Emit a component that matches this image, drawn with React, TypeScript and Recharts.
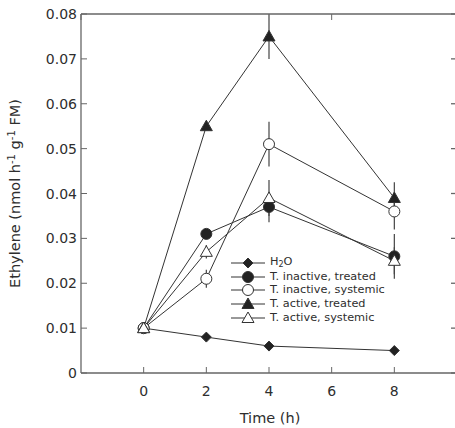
import React from "react";
import { LineChart, Line, XAxis, YAxis, ErrorBar } from "recharts";

// time points (h) and ethylene values
const hours = [0, 2, 4, 8];
const water = [0.01, 0.008, 0.006, 0.005];
const inactiveTreated = [0.01, 0.031, 0.037, 0.026];
const inactiveTreatedErr = [0, 0.001, 0.0034, 0.005];
const inactiveSystemic = [0.01, 0.021, 0.051, 0.036];
const inactiveSystemicErr = [0, 0.002, 0.005, 0.004];
const activeTreated = [0.01, 0.055, 0.075, 0.039];
const activeTreatedErr = [0, 0, 0.005, 0.0035];
const activeSystemic = [0.01, 0.027, 0.039, 0.025];
const activeSystemicErr = [0, 0.0015, 0.004, 0.003];

const xTicks = [0, 2, 4, 6, 8];
const yTicks = [0, 0.01, 0.02, 0.03, 0.04, 0.05, 0.06, 0.07, 0.08];

const FONT = "'DejaVu Sans', Verdana, sans-serif";
const AXIS = "#666";
const INK = "#333";
const TEXT = "#2e2e2e";

const CHART_W = 460;
const MARGIN = { top: 13, right: 2, bottom: 0, left: 0 };
const Y_AXIS_W = 81;
const PLOT_W = CHART_W - MARGIN.left - MARGIN.right - Y_AXIS_W - 1;

const data = hours.map((h, i) => ({
  h,
  water: water[i],
  inactiveTreated: inactiveTreated[i],
  inactiveTreatedErr: inactiveTreatedErr[i],
  inactiveSystemic: inactiveSystemic[i],
  inactiveSystemicErr: inactiveSystemicErr[i],
  activeTreated: activeTreated[i],
  activeTreatedErr: activeTreatedErr[i],
  activeSystemic: activeSystemic[i],
  activeSystemicErr: activeSystemicErr[i],
}));

type Shape = "diamond" | "circle" | "triangle";

function Marker({ shape, filled, cx, cy }: { shape: Shape; filled: boolean; cx: number; cy: number }) {
  const fill = filled ? "#222" : "#fff";
  if (shape === "diamond") {
    const s = 5;
    return <polygon points={`${cx},${cy - s} ${cx + s},${cy} ${cx},${cy + s} ${cx - s},${cy}`} fill={fill} stroke={INK} />;
  }
  if (shape === "circle") {
    return <circle cx={cx} cy={cy} r={5.5} fill={fill} stroke={INK} strokeWidth={1} />;
  }
  return (
    <polygon
      points={`${cx},${cy - 6} ${cx + 6},${cy + 4.5} ${cx - 6},${cy + 4.5}`}
      fill={fill}
      stroke={INK}
    />
  );
}

const dotFor = (shape: Shape, filled: boolean) => (props: any) => {
  if (props.cx == null || props.cy == null) return <g key={props.key} />;
  return <Marker key={props.key} shape={shape} filled={filled} cx={props.cx} cy={props.cy} />;
};

const BottomTick = ({ x, y, payload }: any) => (
  <g>
    <line x1={x} x2={x} y1={y} y2={y - 6} stroke={AXIS} />
    <text x={x} y={y + 23} textAnchor="middle" fontSize={14} fill={TEXT} fontFamily={FONT}>
      {payload.value}
    </text>
  </g>
);

const TopTick = ({ x, y }: any) => <line x1={x} x2={x} y1={y} y2={y + 6} stroke={AXIS} />;

// left tick with label, plus the mirrored inward tick on the right frame edge
const LeftTick = ({ x, y, payload }: any) => (
  <g>
    <line x1={x} x2={x + 6} y1={y} y2={y} stroke={AXIS} />
    <line x1={x + PLOT_W} x2={x + PLOT_W - 6} y1={y} y2={y} stroke={AXIS} strokeWidth={1.3} />
    <text x={x - 4} y={y} dy="0.36em" textAnchor="end" fontSize={14} fill={TEXT} fontFamily={FONT}>
      {payload.value === 0 ? "0" : Number(payload.value).toFixed(2)}
    </text>
  </g>
);

const XTitle = () => (
  <text x={270} y={423} textAnchor="middle" fontSize={14.5} fill={TEXT} fontFamily={FONT}>
    Time (h)
  </text>
);

const YTitle = () => (
  <text
    x={20}
    y={193.5}
    transform="rotate(-90, 20, 193.5)"
    textAnchor="middle"
    fontSize={14.5}
    fill={TEXT}
    fontFamily={FONT}
  >
    Ethylene (nmol h
    <tspan dy={-5} fontSize={10}>-1</tspan>
    <tspan dy={5}> g</tspan>
    <tspan dy={-5} fontSize={10}>-1</tspan>
    <tspan dy={5}> FM)</tspan>
  </text>
);

const legendItems: { label: React.ReactNode; shape: Shape; filled: boolean }[] = [
  {
    label: (
      <>
        H<span style={{ fontSize: 8, position: "relative", top: 2 }}>2</span>O
      </>
    ),
    shape: "diamond",
    filled: true,
  },
  { label: "T. inactive, treated", shape: "circle", filled: true },
  { label: "T. inactive, systemic", shape: "circle", filled: false },
  { label: "T. active, treated", shape: "triangle", filled: true },
  { label: "T. active, systemic", shape: "triangle", filled: false },
];

function LegendBox() {
  return (
    <div
      style={{
        position: "absolute",
        left: 231,
        top: 256,
        fontFamily: FONT,
        fontSize: 11.3,
        color: TEXT,
      }}
    >
      {legendItems.map((item, i) => (
        <div key={i} style={{ display: "flex", alignItems: "center", height: 13.7 }}>
          <svg width={34} height={14} style={{ display: "block" }}>
            <line x1={0} x2={34} y1={7} y2={7} stroke={INK} />
            <Marker shape={item.shape} filled={item.filled} cx={17} cy={7} />
          </svg>
          <span style={{ marginLeft: 5, lineHeight: "12px", whiteSpace: "nowrap" }}>{item.label}</span>
        </div>
      ))}
    </div>
  );
}

const series: { key: string; err?: string; shape: Shape; filled: boolean }[] = [
  { key: "water", shape: "diamond", filled: true },
  { key: "inactiveTreated", err: "inactiveTreatedErr", shape: "circle", filled: true },
  { key: "inactiveSystemic", err: "inactiveSystemicErr", shape: "circle", filled: false },
  { key: "activeTreated", err: "activeTreatedErr", shape: "triangle", filled: true },
  { key: "activeSystemic", err: "activeSystemicErr", shape: "triangle", filled: false },
];

export default function App() {
  return (
    <div
      style={{
        position: "absolute",
        left: 0,
        top: 0,
        width: 455,
        height: 428,
        overflow: "hidden",
        background: "#fff",
      }}
    >
      <LineChart width={CHART_W} height={428} data={data} margin={MARGIN}>
        <XAxis
          dataKey="h"
          type="number"
          domain={[-2, 10]}
          ticks={xTicks}
          tickSize={0}
          tickMargin={0}
          tickLine={false}
          tick={<BottomTick />}
          height={55}
          axisLine={{ stroke: AXIS, strokeWidth: 1.3 }}
          label={XTitle}
        />
        <XAxis
          xAxisId="top"
          orientation="top"
          type="number"
          domain={[-2, 10]}
          ticks={xTicks}
          tickSize={0}
          tickMargin={0}
          tickLine={false}
          tick={<TopTick />}
          height={1}
          axisLine={{ stroke: AXIS, strokeWidth: 1.3 }}
        />
        <YAxis
          type="number"
          domain={[0, 0.08]}
          ticks={yTicks}
          tickSize={0}
          tickMargin={0}
          tickLine={false}
          tick={<LeftTick />}
          width={Y_AXIS_W}
          axisLine={{ stroke: AXIS, strokeWidth: 1.3 }}
          label={YTitle}
        />
        <YAxis
          yAxisId="right"
          orientation="right"
          type="number"
          domain={[0, 0.08]}
          tick={false}
          tickLine={false}
          width={1}
          axisLine={{ stroke: AXIS, strokeWidth: 1.3 }}
        />
        {series.map((s) => (
          <Line
            key={s.key}
            dataKey={s.key}
            type="linear"
            stroke={INK}
            strokeWidth={1}
            dot={dotFor(s.shape, s.filled)}
            activeDot={false}
            isAnimationActive={false}
          >
            {s.err && <ErrorBar dataKey={s.err} direction="y" width={0} stroke="#444" strokeWidth={1.2} />}
          </Line>
        ))}
      </LineChart>
      <LegendBox />
    </div>
  );
}
